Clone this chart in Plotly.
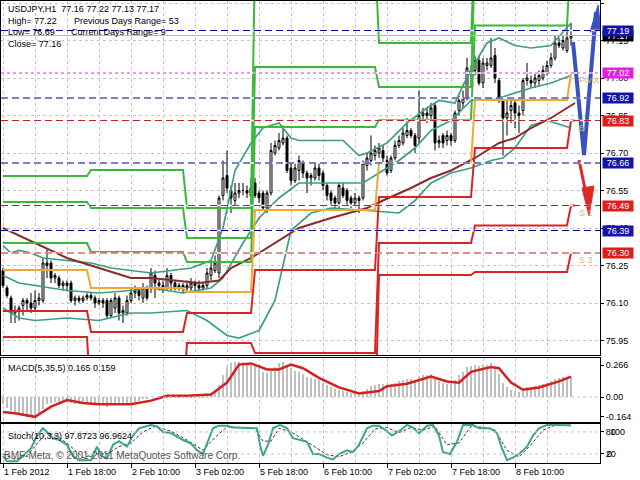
import plotly.graph_objects as go

# ---------------- data ----------------
bar_idx = list(range(143))
x_tick_bars = [0, 16, 32, 48, 64, 80, 96, 112, 128]
x_tick_labels = ["1 Feb 2012", "1 Feb 18:00", "2 Feb 10:00", "3 Feb 02:00", "5 Feb 18:00",
                 "6 Feb 10:00", "7 Feb 02:00", "7 Feb 18:00", "8 Feb 10:00"]
x_minor_bars = [8, 24, 40, 56, 72, 88, 104, 120, 136]
price_ticks = [77.30, 77.15, 77.00, 76.85, 76.70, 76.55, 76.40, 76.25, 76.10, 75.95]

opens = [76.23, 76.16, 76.12, 76.06, 76.07, 76.09, 76.11, 76.10, 76.08, 76.11,
         76.11, 76.26, 76.26, 76.20, 76.20, 76.17, 76.18, 76.18, 76.11, 76.12,
         76.11, 76.12, 76.13, 76.12, 76.10, 76.11, 76.11, 76.05, 76.08, 76.12,
         76.06, 76.06, 76.11, 76.14, 76.15, 76.12, 76.16, 76.16, 76.21, 76.18,
         76.17, 76.16, 76.21, 76.18, 76.16, 76.17, 76.16, 76.16, 76.18, 76.17,
         76.16, 76.17, 76.21, 76.23, 76.22, 76.53, 76.61, 76.55, 76.51, 76.54,
         76.55, 76.55, 76.53, 76.58, 76.54, 76.54, 76.48, 76.54, 76.70, 76.72,
         76.74, 76.76, 76.64, 76.59, 76.63, 76.66, 76.62, 76.60, 76.60, 76.64,
         76.62, 76.57, 76.54, 76.52, 76.50, 76.56, 76.55, 76.52, 76.50, 76.52,
         76.52, 76.65, 76.67, 76.69, 76.70, 76.71, 76.67, 76.63, 76.68, 76.73,
         76.74, 76.77, 76.79, 76.77, 76.76, 76.85, 76.86, 76.85, 76.89, 76.74,
         76.77, 76.75, 76.77, 76.75, 76.87, 76.90, 76.92, 77.03, 77.03, 77.07,
         76.98, 77.05, 77.05, 77.09, 76.99, 76.91, 76.84, 76.87, 76.90, 76.86,
         76.87, 76.99, 76.99, 76.98, 76.99, 77.00, 77.02, 77.05, 77.08, 77.14,
         77.12, 77.11, 77.16]
highs = [76.24, 76.17, 76.13, 76.09, 76.09, 76.12, 76.12, 76.14, 76.15, 76.14,
         76.28, 76.32, 76.27, 76.22, 76.21, 76.19, 76.19, 76.19, 76.13, 76.13,
         76.13, 76.14, 76.14, 76.13, 76.12, 76.12, 76.12, 76.12, 76.14, 76.13,
         76.09, 76.13, 76.16, 76.17, 76.16, 76.18, 76.17, 76.24, 76.23, 76.20,
         76.19, 76.24, 76.22, 76.19, 76.18, 76.18, 76.19, 76.20, 76.19, 76.19,
         76.18, 76.24, 76.26, 76.29, 76.53, 76.67, 76.71, 76.57, 76.58, 76.58,
         76.58, 76.57, 76.60, 76.60, 76.55, 76.55, 76.55, 76.74, 76.75, 76.78,
         76.81, 76.77, 76.66, 76.66, 76.69, 76.67, 76.63, 76.62, 76.66, 76.66,
         76.63, 76.58, 76.55, 76.53, 76.58, 76.58, 76.56, 76.53, 76.54, 76.53,
         76.67, 76.70, 76.77, 76.73, 76.74, 76.73, 76.69, 76.69, 76.75, 76.77,
         76.80, 76.84, 76.80, 76.78, 76.95, 76.88, 76.88, 76.90, 76.90, 76.77,
         76.78, 76.79, 76.78, 76.87, 76.93, 76.95, 77.08, 77.05, 77.09, 77.09,
         77.08, 77.08, 77.16, 77.12, 77.00, 76.92, 76.91, 76.91, 76.92, 76.89,
         77.00, 77.06, 77.01, 77.02, 77.03, 77.05, 77.07, 77.10, 77.17, 77.16,
         77.17, 77.21, 77.22]
lows = [76.16, 76.12, 76.02, 76.02, 76.03, 76.05, 76.07, 76.06, 76.07, 76.09,
        76.10, 76.20, 76.18, 76.18, 76.16, 76.15, 76.15, 76.10, 76.09, 76.10,
        76.10, 76.11, 76.11, 76.08, 76.09, 76.08, 76.04, 76.04, 76.06, 76.03,
        76.02, 76.05, 76.10, 76.12, 76.11, 76.10, 76.11, 76.14, 76.12, 76.15,
        76.14, 76.15, 76.15, 76.15, 76.15, 76.14, 76.15, 76.14, 76.15, 76.15,
        76.15, 76.16, 76.19, 76.22, 76.20, 76.51, 76.54, 76.46, 76.49, 76.52,
        76.53, 76.52, 76.51, 76.52, 76.50, 76.47, 76.46, 76.53, 76.69, 76.71,
        76.73, 76.62, 76.57, 76.58, 76.59, 76.60, 76.54, 76.57, 76.59, 76.59,
        76.55, 76.51, 76.49, 76.48, 76.48, 76.52, 76.49, 76.48, 76.49, 76.46,
        76.51, 76.63, 76.65, 76.67, 76.68, 76.66, 76.61, 76.62, 76.67, 76.72,
        76.73, 76.76, 76.76, 76.70, 76.74, 76.83, 76.82, 76.83, 76.71, 76.72,
        76.72, 76.73, 76.73, 76.74, 76.85, 76.88, 76.91, 77.00, 77.01, 76.97,
        76.96, 77.03, 77.04, 76.98, 76.90, 76.69, 76.77, 76.82, 76.80, 76.78,
        76.85, 76.97, 76.96, 76.96, 76.97, 76.99, 77.01, 77.04, 77.07, 77.12,
        77.11, 77.10, 77.13]
closes = [76.17, 76.13, 76.06, 76.07, 76.08, 76.11, 76.10, 76.08, 76.11, 76.12,
          76.26, 76.25, 76.20, 76.21, 76.17, 76.18, 76.17, 76.11, 76.12, 76.11,
          76.12, 76.13, 76.12, 76.10, 76.11, 76.10, 76.05, 76.11, 76.12, 76.06,
          76.07, 76.11, 76.14, 76.15, 76.13, 76.16, 76.12, 76.22, 76.18, 76.17,
          76.16, 76.21, 76.18, 76.16, 76.17, 76.16, 76.17, 76.18, 76.17, 76.16,
          76.17, 76.22, 76.24, 76.26, 76.52, 76.60, 76.56, 76.52, 76.54, 76.55,
          76.55, 76.54, 76.56, 76.53, 76.52, 76.48, 76.54, 76.71, 76.73, 76.75,
          76.76, 76.63, 76.59, 76.64, 76.67, 76.62, 76.60, 76.61, 76.64, 76.61,
          76.57, 76.53, 76.51, 76.50, 76.57, 76.53, 76.51, 76.50, 76.52, 76.51,
          76.66, 76.68, 76.70, 76.71, 76.72, 76.68, 76.62, 76.68, 76.73, 76.75,
          76.78, 76.79, 76.77, 76.73, 76.85, 76.86, 76.85, 76.88, 76.74, 76.75,
          76.74, 76.77, 76.75, 76.86, 76.91, 76.92, 77.04, 77.02, 77.07, 76.98,
          77.06, 77.06, 77.08, 77.00, 76.91, 76.84, 76.86, 76.89, 76.86, 76.85,
          76.99, 77.00, 76.98, 77.00, 77.01, 77.03, 77.05, 77.08, 77.14, 77.13,
          77.15, 77.16, 77.17]

# Bollinger bands (read at sample bars)
bb_up_bars = [0, 2, 4, 7, 10, 16, 22, 27, 32, 37, 42, 47, 52, 55, 58, 62, 65, 69, 72, 74,
              85, 89, 91, 96, 101, 106, 109, 113, 115, 118, 121, 124, 128, 132, 137, 142]
bb_up_vals = [76.33, 76.30, 76.31, 76.30, 76.28, 76.27, 76.26, 76.24, 76.23, 76.22, 76.23,
              76.24, 76.27, 76.40, 76.63, 76.74, 76.80, 76.82, 76.76, 76.75, 76.75, 76.69,
              76.70, 76.74, 76.82, 76.88, 76.91, 76.90, 76.97, 77.06, 77.14, 77.16, 77.13,
              77.12, 77.13, 77.22]
bb_mid_bars = [0, 4, 16, 24, 32, 37, 45, 52, 55, 60, 64, 69, 74, 82, 90, 95, 99, 103, 107,
               112, 117, 124, 132, 137, 142]
bb_mid_vals = [76.21, 76.18, 76.15, 76.14, 76.15, 76.16, 76.14, 76.16, 76.20, 76.34, 76.44,
               76.52, 76.58, 76.58, 76.58, 76.63, 76.67, 76.72, 76.79, 76.83, 76.91, 76.92,
               76.96, 76.98, 77.01]
bb_low_bars = [0, 4, 8, 16, 24, 32, 37, 46, 51, 56, 59, 64, 68, 72, 77, 82, 91, 99, 103, 107,
               112, 117, 122, 125, 128, 132, 136, 142]
bb_low_vals = [76.08, 76.04, 76.03, 76.04, 76.03, 76.06, 76.06, 76.07, 76.03, 75.97, 75.96,
               75.99, 76.11, 76.39, 76.46, 76.48, 76.47, 76.46, 76.51, 76.58, 76.62, 76.64,
               76.67, 76.68, 76.72, 76.81, 76.83, 76.80]
# moving average
ma_bars = [0, 8, 16, 24, 32, 37, 49, 54, 57, 62, 66, 70, 74, 82, 91, 95, 102, 107, 112, 118,
           124, 128, 132, 137, 143]
ma_vals = [76.40, 76.34, 76.28, 76.24, 76.20, 76.20, 76.18, 76.19, 76.24, 76.28, 76.32, 76.36,
           76.40, 76.44, 76.48, 76.51, 76.56, 76.60, 76.63, 76.68, 76.74, 76.76, 76.80, 76.84,
           76.90]

# daily pivot levels
day_first = [0, 22, 46, 63, 94, 118, 142]
day_last = [21, 45, 62, 93, 117, 141, 143]
pivot_lv = [76.232, 76.16, 76.144, 76.472, 76.66, 76.912, 77.02]
r1_lv = [76.34, 76.304, 76.264, 76.804, 76.832, 77.21, 77.50]
r2_lv = [76.504, 76.48, 76.36, 77.044, 76.964, 77.50, 77.60]
r3_lv = [76.608, 76.632, 76.48, 77.50, 77.14, 77.60, 77.70]
s1_lv = [76.068, 75.984, 76.06, 76.232, 76.524, 76.72, 76.83]
s2_lv = [75.964, 75.70, 75.94, 75.90, 76.34, 76.41, 76.49]
s3_lv = [75.60, 75.50, 75.60, 75.60, 76.212, 76.224, 76.30]

# horizontal objects
navy_levels = [77.19, 76.92, 76.66, 76.39]
magenta_levels = [77.02]
red_levels = [76.83, 76.49, 76.30]
bid_level = 77.17
price_boxes = [(77.17, "black"), (77.19, "#1414a8"), (77.02, "#e020e0"), (76.92, "#1414a8"),
               (76.83, "#e01c1c"), (76.66, "#1414a8"), (76.49, "#e01c1c"), (76.39, "#1414a8"),
               (76.30, "#e01c1c")]
level_texts = [(77.02, "Pivot"), (76.83, "S"), (76.49, "S 1"), (76.30, "S 3")]

# arrows (bar, price)
blue_arrow_bars = [142.5, 145.25, 148.25]
blue_arrow_prices = [77.144, 76.692, 77.264]
blue_head_bars = [146.75, 148.75, 149.5, 146.75]
blue_head_prices = [77.184, 77.292, 77.192, 77.184]
red_arrow_bars = [144.0, 146.5]
red_arrow_prices = [76.672, 76.48]
red_head_bars = [144.75, 146.5, 147.75, 144.75]
red_head_prices = [76.56, 76.448, 76.568, 76.56]

# MACD
macd_hist = [-0.06, -0.09, -0.12, -0.14, -0.15, -0.16, -0.17, -0.17, -0.16, -0.15,
             -0.10, -0.06, -0.05, -0.04, -0.04, -0.04, -0.04, -0.05, -0.06, -0.06,
             -0.06, -0.06, -0.06, -0.07, -0.07, -0.07, -0.08, -0.07, -0.06, -0.07,
             -0.07, -0.06, -0.05, -0.04, -0.03, -0.02, -0.01, 0.00, 0.00, 0.01,
             0.01, 0.01, 0.01, 0.01, 0.01, 0.01, 0.01, 0.01, 0.01, 0.01,
             0.01, 0.02, 0.03, 0.05, 0.10, 0.18, 0.25, 0.28, 0.29, 0.29,
             0.29, 0.28, 0.27, 0.26, 0.24, 0.21, 0.20, 0.22, 0.25, 0.28,
             0.29, 0.27, 0.24, 0.22, 0.21, 0.19, 0.17, 0.16, 0.15, 0.14,
             0.12, 0.10, 0.08, 0.07, 0.06, 0.05, 0.04, 0.03, 0.03, 0.02,
             0.05, 0.07, 0.09, 0.10, 0.11, 0.11, 0.10, 0.11, 0.12, 0.13,
             0.14, 0.15, 0.15, 0.14, 0.17, 0.18, 0.18, 0.19, 0.15, 0.13,
             0.12, 0.11, 0.11, 0.14, 0.18, 0.21, 0.25, 0.26, 0.27, 0.26,
             0.27, 0.27, 0.28, 0.25, 0.19, 0.12, 0.08, 0.06, 0.05, 0.04,
             0.07, 0.08, 0.08, 0.09, 0.10, 0.11, 0.12, 0.13, 0.15, 0.16,
             0.17, 0.17, 0.17]
macd_sig_bars = [0, 3, 8, 12, 16, 20, 24, 32, 37, 41, 46, 52, 56, 59, 62, 66, 69, 72, 75, 79,
                 84, 89, 94, 96, 101, 104, 107, 111, 114, 117, 122, 124, 127, 130, 134, 139, 142]
macd_sig_vals = [-0.125, -0.135, -0.165, -0.08, -0.025, -0.05, -0.06, -0.06, -0.03, 0.01,
                 0.01, 0.02, 0.12, 0.27, 0.28, 0.23, 0.23, 0.27, 0.24, 0.16, 0.08, 0.03,
                 0.05, 0.09, 0.11, 0.14, 0.17, 0.13, 0.12, 0.21, 0.25, 0.24, 0.12, 0.06,
                 0.08, 0.13, 0.17]
macd_ticks = [0.266, 0.0, -0.164]
macd_tick_text = ["0.266", "0.00", "-0.164"]

# Stochastic
st_main_bars = [0, 1, 3.5, 5, 7, 8.5, 10, 11, 12.5, 14, 16, 17.5, 19, 22, 23.5, 24.5, 26, 27.5,
                29, 31, 32.5, 34, 37, 38.5, 40, 42, 43.5, 45, 47, 48.5, 50, 51, 52.5, 54, 56,
                57.5, 61, 63.5, 64.25, 65, 66.25, 67.5, 69.25, 71, 72.5, 74, 76, 77.5, 79, 81,
                82.5, 84, 86, 87.5, 89, 91, 92.5, 94, 96, 97.25, 99, 101, 102.5, 104, 106,
                107.5, 109, 110, 111.75, 113.5, 115, 117.5, 119, 121.75, 123.5, 124.75, 126,
                127.5, 129, 131, 132.5, 134, 136, 137.5, 141, 142]
st_main_vals = [15, 0, 0, 15, 35, 70, 90, 80, 63, 58, 45, 15, 3, 3, 40, 15, 8, 45, 55, 40,
                70, 90, 99, 95, 80, 77, 67, 58, 48, 30, 20, 48, 90, 97, 97, 92, 90, 90, 45, 15,
                45, 90, 99, 90, 63, 58, 53, 20, 20, 10, 5, 20, 30, 25, 45, 90, 97, 97, 82, 70,
                82, 99, 92, 76, 97, 99, 70, 25, 20, 53, 99, 99, 90, 90, 77, 35, 3, 10, 20, 40,
                70, 90, 99, 99, 98, 98]
st_sig_bars = [0, 3, 6, 9, 11, 14, 17, 20, 23, 26, 29, 32, 35, 38, 42, 46, 50, 53, 56, 60, 63,
               65, 67, 69, 72, 75, 78, 81, 84, 87, 90, 93, 96, 99, 102, 105, 108, 111, 114, 117,
               120, 123, 126, 129, 132, 135, 138, 142]
st_sig_vals = [20, 5, 15, 55, 80, 65, 40, 10, 20, 20, 40, 50, 80, 95, 82, 58, 30, 65, 94, 92,
               90, 55, 55, 90, 80, 60, 38, 18, 12, 25, 50, 88, 92, 78, 92, 85, 95, 45, 50, 95,
               93, 85, 30, 12, 45, 85, 98, 97]

# ---------------- geometry helpers (layout only) ----------------
W, H = 640, 480
ML, MR, MT, MB = 1, 40, 1, 17
PW, PH = W - ML - MR, H - MT - MB


def fx(px):
    return (px - ML) / PW


def fy(py):
    return (H - MB - py) / PH


FONT = "Liberation Sans, Arial, sans-serif"
GRID = "#c4c4c4"

fig = go.Figure()

# candles
fig.add_trace(go.Candlestick(
    x=bar_idx, open=opens, high=highs, low=lows, close=closes,
    increasing=dict(line=dict(color="black", width=1), fillcolor="white"),
    decreasing=dict(line=dict(color="black", width=1), fillcolor="black"),
    whiskerwidth=0, xaxis="x", yaxis="y", showlegend=False, hoverinfo="skip"))


def add_line(xs, ys, color, width, dash=None, axes=("x", "y")):
    fig.add_trace(go.Scatter(x=xs, y=ys, mode="lines",
                             line=dict(color=color, width=width, dash=dash),
                             xaxis=axes[0], yaxis=axes[1], showlegend=False,
                             hoverinfo="skip"))


def step_xy(levels):
    xs, ys = [], []
    for f, l, v in zip(day_first, day_last, levels):
        xs += [f, l]
        ys += [v, v]
    return xs, ys


# indicators
add_line(bb_up_bars, bb_up_vals, "#3c9e84", 1.7)
add_line(bb_mid_bars, bb_mid_vals, "#3c9e84", 1.7)
add_line(bb_low_bars, bb_low_vals, "#3c9e84", 1.7)
add_line(ma_bars, ma_vals, "#8c2a2a", 2)

for lv in (r1_lv, r2_lv, r3_lv):
    xs, ys = step_xy(lv)
    add_line(xs, ys, "#3db83d", 2)
for lv in (s1_lv, s2_lv, s3_lv):
    xs, ys = step_xy(lv)
    add_line(xs, ys, "#d82424", 2)
xs, ys = step_xy(pivot_lv)
add_line(xs, ys, "#f0a830", 2)

# arrows
add_line(blue_arrow_bars, blue_arrow_prices, "#3a52c0", 4)
fig.add_trace(go.Scatter(x=blue_head_bars, y=blue_head_prices, mode="lines", fill="toself",
                         fillcolor="#3a52c0", line=dict(color="#3a52c0", width=1),
                         xaxis="x", yaxis="y", showlegend=False, hoverinfo="skip"))
add_line(red_arrow_bars, red_arrow_prices, "#e02828", 3)
fig.add_trace(go.Scatter(x=red_head_bars, y=red_head_prices, mode="lines", fill="toself",
                         fillcolor="#e02828", line=dict(color="#e02828", width=1),
                         xaxis="x", yaxis="y", showlegend=False, hoverinfo="skip"))

# MACD
fig.add_trace(go.Bar(x=bar_idx, y=macd_hist, width=0.5, marker=dict(color="#c0c0c0", line=dict(width=0)),
                     xaxis="x2", yaxis="y2", showlegend=False, hoverinfo="skip"))
add_line(macd_sig_bars, macd_sig_vals, "#d42020", 2.5, axes=("x2", "y2"))

# Stochastic
add_line(st_sig_bars, st_sig_vals, "#503030", 1, dash="3px,2px", axes=("x3", "y3"))
add_line(st_main_bars, st_main_vals, "#3aa590", 2, axes=("x3", "y3"))

# shapes: horizontal objects and levels (dashed objects have opaque white gaps)
shapes = []


def hline(lv, color, dash):
    shapes.append(dict(type="line", xref="x domain", x0=0, x1=1, yref="y", y0=lv, y1=lv,
                       line=dict(color="white", width=1.5)))
    shapes.append(dict(type="line", xref="x domain", x0=0, x1=1, yref="y", y0=lv, y1=lv,
                       line=dict(color=color, width=1, dash=dash)))


for lv in navy_levels:
    hline(lv, "#000090", "7px,4px")
for lv in magenta_levels:
    hline(lv, "#d040d0", "3px,3px")
for lv in red_levels:
    hline(lv, "#c02020", "7px,4px")
shapes.append(dict(type="line", xref="x domain", x0=0, x1=1, yref="y", y0=bid_level, y1=bid_level,
                   line=dict(color="#b8b8b8", width=1)))
shapes.append(dict(type="line", xref="x2 domain", x0=0, x1=1, yref="y2", y0=0, y1=0,
                   line=dict(color=GRID, width=1, dash="dot")))
for lv in (20, 80):
    shapes.append(dict(type="line", xref="x3 domain", x0=0, x1=1, yref="y3", y0=lv, y1=lv,
                       line=dict(color=GRID, width=1, dash="dot")))

annotations = []
# right side price boxes
for lv, col in price_boxes:
    annotations.append(dict(x=1, xref="paper", xanchor="left", xshift=2, y=lv, yref="y",
                            text=f"{lv:.2f}", showarrow=False, bgcolor=col,
                            font=dict(family=FONT, size=9, color="white"),
                            width=30, height=10, borderpad=0))
for lv, txt in level_texts:
    annotations.append(dict(x=143.5, xref="x", xanchor="left", y=lv, yref="y", yshift=-7,
                            text=txt, showarrow=False,
                            font=dict(family=FONT, size=9, color="#dab46a")))

# info texts
info = [(6, 9, "USDJPY,H1  77.16 77.22 77.13 77.17"),
        (6, 21, "High= 77.22"), (72, 21, "Previous Days Range= 53"),
        (6, 32, "Low= 76.69"), (69, 32, "Current Days Range= 9"),
        (6, 44, "Close= 77.16"),
        (6, 368, "MACD(5,35,5) 0.165 0.159"),
        (6, 436, "Stoch(10,3,3) 97.8723 96.9624")]
for px, py, txt in info:
    annotations.append(dict(x=fx(px), y=fy(py), xref="paper", yref="paper", xanchor="left",
                            yanchor="middle", text=txt, showarrow=False,
                            font=dict(family=FONT, size=9, color="black")))
annotations.append(dict(x=fx(2), y=fy(455), xref="paper", yref="paper", xanchor="left",
                        yanchor="middle", text="BMF-Meta, © 2001-2011 MetaQuotes Software Corp.",
                        showarrow=False, font=dict(family=FONT, size=10, color="#555555")))
# stochastic overlapping scale labels
annotations.append(dict(x=1, xref="paper", xanchor="left", xshift=8, y=80, yref="y3",
                        text="100", showarrow=False, font=dict(family=FONT, size=9, color="black")))
annotations.append(dict(x=1, xref="paper", xanchor="left", xshift=5, y=20, yref="y3",
                        text="0", showarrow=False, font=dict(family=FONT, size=9, color="black")))

xcommon = dict(range=[-0.5, 149.25], tickvals=x_tick_bars, showgrid=True, gridcolor=GRID,
               griddash="dot", gridwidth=1, zeroline=False, showline=True, mirror=True,
               linecolor="black", linewidth=1,
               minor=dict(tickvals=x_minor_bars, showgrid=True, gridcolor=GRID, griddash="dot"))
ycommon = dict(side="right", zeroline=False, showline=True, mirror=True, linecolor="black",
               linewidth=1, ticks="outside", ticklen=3, tickcolor="black",
               tickfont=dict(family=FONT, size=9, color="black"))

fig.update_layout(
    width=W, height=H, margin=dict(l=ML, r=MR, t=MT, b=MB),
    paper_bgcolor="white", plot_bgcolor="white", showlegend=False, bargap=0,
    xaxis=dict(domain=[0, 1], anchor="y", showticklabels=False, ticks="",
               rangeslider=dict(visible=False), **xcommon),
    xaxis2=dict(domain=[0, 1], anchor="y2", showticklabels=False, ticks="", **xcommon),
    xaxis3=dict(domain=[0, 1], anchor="y3", showticklabels=True, ticks="outside", ticklen=4,
                tickcolor="black", ticktext=x_tick_labels, ticklabelposition="outside right",
                tickfont=dict(family=FONT, size=9, color="black"), **xcommon),
    yaxis=dict(domain=[fy(355), fy(1)], anchor="x", range=[75.892, 77.308],
               tickvals=price_ticks, ticktext=[f"{v:.2f}" for v in price_ticks],
               showgrid=True, gridcolor=GRID, griddash="dot", **ycommon),
    yaxis2=dict(domain=[fy(422), fy(358)], anchor="x2", range=[-0.208, 0.325],
                tickvals=macd_ticks, ticktext=macd_tick_text, showgrid=False, **ycommon),
    yaxis3=dict(domain=[fy(463), fy(424)], anchor="x3", range=[-4.6, 101.6],
                tickvals=[80, 20], ticktext=["80", "20"], showgrid=False, **ycommon),
    shapes=shapes, annotations=annotations,
)

fig.write_html("out.html", config={"displayModeBar": False},
               post_script="document.body.style.margin='0px';document.body.style.overflow='hidden';")
